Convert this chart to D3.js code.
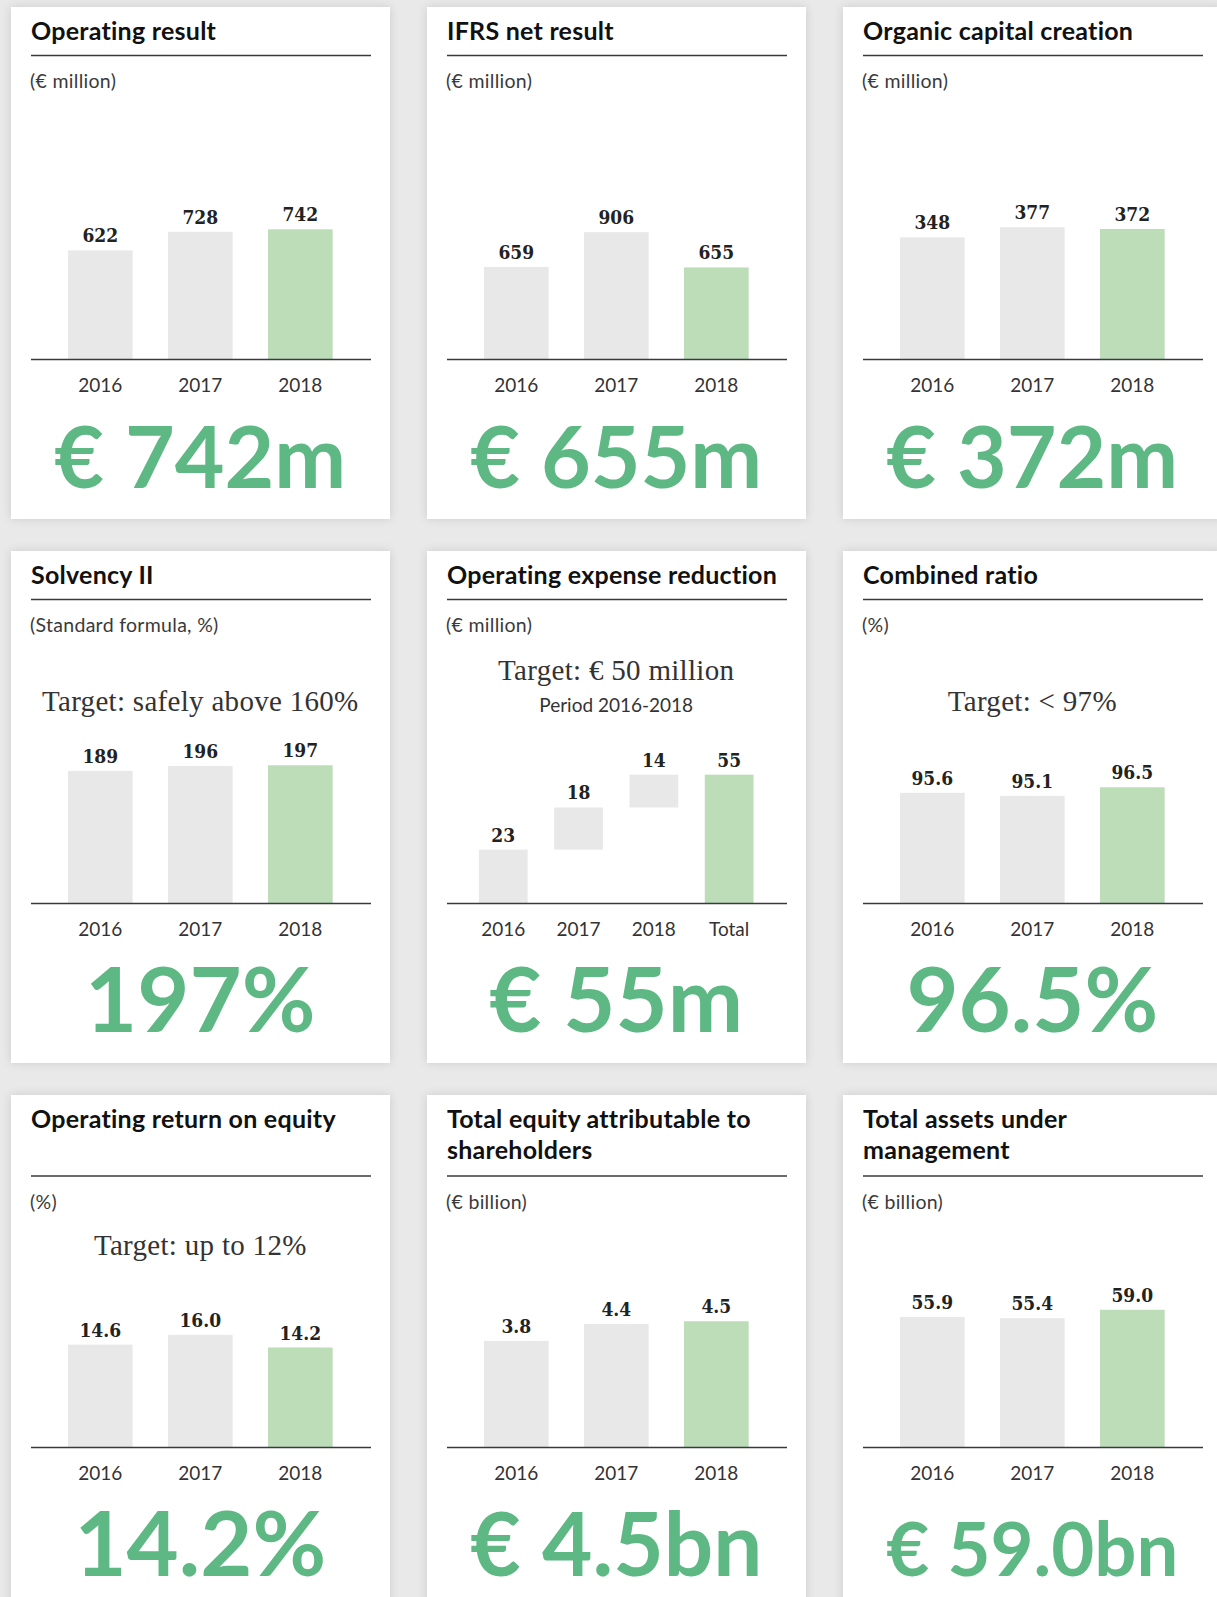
<!DOCTYPE html>
<html>
<head>
<meta charset="utf-8">
<script src="https://cdn.jsdelivr.net/npm/d3@7"></script>
<style>
  html, body { margin: 0; padding: 0; background: #e9e9e9; }
  svg { display: block; }
  .title { font-family: Lato, "Open Sans", sans-serif; font-weight: 700; font-size: 25px; letter-spacing: 0.25px; fill: #111; }
  .unit { font-family: Lato, sans-serif; font-size: 19.5px; letter-spacing: 0.3px; fill: #3a3a3a; }
  .target { font-family: "Liberation Serif", serif; font-size: 29px; letter-spacing: 0.3px; fill: #333; }
  .note { font-family: Lato, sans-serif; font-size: 19px; fill: #333; }
  .value { font-family: "DejaVu Serif Condensed", "DejaVu Serif", serif; font-stretch: condensed; font-weight: 700; font-size: 19px; fill: #222; }
  .year text { font-family: Lato, sans-serif; font-size: 19px; fill: #333; }
  .headline { font-family: Lato, sans-serif; font-weight: 700; font-size: 90px; fill: #5db883; }
</style>
</head>
<body>
<svg id="kpis" width="1217" height="1597"></svg>
<script>
// ---- data ----
const years = ["2016", "2017", "2018"]
const expenseCategories = ["2016", "2017", "2018", "Total"]

const operatingResult = [622, 728, 742]
const ifrsNetResult = [659, 906, 655]
const organicCapital = [348, 377, 372]
const solvencyRatio = [189, 196, 197]
const expenseReduction = [23, 18, 14]
const expenseTotal = 55
const combinedRatio = [95.6, 95.1, 96.5]
const operatingROE = [14.6, 16.0, 14.2]
const totalEquity = [3.8, 4.4, 4.5]
const assetsUnderMgmt = [55.9, 55.4, 59.0]

const panelTitles = [
  ["Operating result"], ["IFRS net result"], ["Organic capital creation"],
  ["Solvency II"], ["Operating expense reduction"], ["Combined ratio"],
  ["Operating return on equity"], ["Total equity attributable to", "shareholders"], ["Total assets under", "management"]
]
const panelUnits = ["(€ million)", "(€ million)", "(€ million)", "(Standard formula, %)", "(€ million)", "(%)", "(%)", "(€ billion)", "(€ billion)"]
const panelTargets = [null, null, null, "Target: safely above 160%", "Target: € 50 million", "Target: < 97%", "Target: up to 12%", null, null]
const targetNotes = [null, null, null, null, "Period 2016-2018", null, null, null, null]
const headlines = ["€ 742m", "€ 655m", "€ 372m", "197%", "€ 55m", "96.5%", "14.2%", "€ 4.5bn", "€ 59.0bn"]
const labelFormats = ["d", "d", "d", "d", "d", ".1f", ".1f", ".1f", ".1f"]
// value axis extent of each small chart (combined ratio axis does not start at zero)
const yDomains = [[0, 1140], [0, 1423], [0, 570], [0, 285], [0, 85.4], [77.5, 110.2], [0, 28.4], [0, 7.13], [0, 85.7]]

const panelSeries = [operatingResult, ifrsNetResult, organicCapital, solvencyRatio, expenseReduction,
  combinedRatio, operatingROE, totalEquity, assetsUnderMgmt]

// ---- layout ----
const panelW = 379, panelH = 512
const colStep = 416, rowStep = 544
const axisY = 352.5, plotTop = 152.5
const ruleX0 = 20, ruleX1 = 360
const headlineMaxW = 292
const grey = "#e8e8e8", green = "#bddcb8"

const svg = d3.select("#kpis")

const defs = svg.append("defs")
defs.append("filter").attr("id", "shadow")
    .attr("x", "-10%").attr("y", "-10%").attr("width", "120%").attr("height", "120%")
  .append("feDropShadow")
    .attr("dx", 0).attr("dy", 0).attr("stdDeviation", 5)
    .attr("flood-color", "#000").attr("flood-opacity", 0.13)

// build the bars for every panel: [{cat, v, y0, y1, highlight}]
function barsFor(i){
  if(i === 4){
    // waterfall: each year stacks on the previous, then the total from zero
    let run = 0
    const steps = expenseReduction.map((v, k) => {
      const d = {cat: expenseCategories[k], v: v, y0: run, y1: run + v, highlight: false}
      run += v
      return d
    })
    steps.push({cat: "Total", v: expenseTotal, y0: 0, y1: expenseTotal, highlight: true})
    return steps
  }
  const base = yDomains[i][0]
  return panelSeries[i].map((v, k) => ({cat: years[k], v: v, y0: base, y1: v, highlight: k === years.length - 1}))
}

panelTitles.forEach((title, i) => {
  const col = i % 3, row = Math.floor(i / 3)
  const g = svg.append("g")
      .attr("transform", `translate(${11 + col * colStep},${7 + row * rowStep})`)

  g.append("rect")
      .attr("width", panelW).attr("height", panelH)
      .attr("fill", "#fff")
      .attr("filter", "url(#shadow)")

  g.selectAll("text.title")
    .data(title)
    .join("text")
      .attr("class", "title")
      .attr("x", ruleX0)
      .attr("y", (d, k) => 32.5 + k * 31)
      .text(d => d)

  const ruleY = row === 2 ? 81 : 48.5
  g.append("line")
      .attr("x1", ruleX0).attr("x2", ruleX1)
      .attr("y1", ruleY).attr("y2", ruleY)
      .attr("stroke", "#3a3a3a").attr("stroke-width", 1.5)

  g.append("text")
      .attr("class", "unit")
      .attr("x", ruleX0 - 1)
      .attr("y", ruleY + 32.5)
      .text(panelUnits[i])

  const bars = barsFor(i)
  const cats = bars.map(d => d.cat)
  const x = cats.length === 4
    ? d3.scaleBand().domain(cats).range([38.6, 339.8]).paddingInner(0.353).paddingOuter(0.1765)
    : d3.scaleBand().domain(cats).range([39.3, 339.3]).paddingInner(0.353).paddingOuter(0.1765)
  const y = d3.scaleLinear().domain(yDomains[i]).range([axisY, plotTop])
  const centerX = cats.length === 4 ? 189.2 : x(cats[1]) + x.bandwidth() / 2

  if(panelTargets[i]){
    const hasNote = targetNotes[i] !== null
    g.append("text")
        .attr("class", "target")
        .attr("text-anchor", "middle")
        .attr("x", centerX)
        .attr("y", hasNote ? 128.5 : 160)
        .text(panelTargets[i])
    if(hasNote){
      g.append("text")
          .attr("class", "note")
          .attr("text-anchor", "middle")
          .attr("x", centerX)
          .attr("y", 161)
          .text(targetNotes[i])
    }
  }

  g.selectAll("rect.bar")
    .data(bars)
    .join("rect")
      .attr("class", "bar")
      .attr("x", d => x(d.cat))
      .attr("width", x.bandwidth())
      .attr("y", d => y(d.y1))
      .attr("height", d => y(d.y0) - y(d.y1))
      .attr("fill", d => d.highlight ? green : grey)

  const fmt = d3.format(labelFormats[i])
  g.selectAll("text.value")
    .data(bars)
    .join("text")
      .attr("class", "value")
      .attr("text-anchor", "middle")
      .attr("x", d => x(d.cat) + x.bandwidth() / 2)
      .attr("y", d => y(d.y1) - 8)
      .text(d => fmt(d.v))

  g.append("line")
      .attr("x1", ruleX0).attr("x2", ruleX1)
      .attr("y1", axisY).attr("y2", axisY)
      .attr("stroke", "#3a3a3a").attr("stroke-width", 1.5)

  g.append("g")
      .attr("class", "year")
      .attr("transform", `translate(0,${axisY})`)
      .call(d3.axisBottom(x).tickSize(0).tickPadding(19))
      .call(a => a.select(".domain").remove())
      .selectAll("text").attr("font-family", null).attr("font-size", null).attr("fill", null)

  const head = g.append("text")
      .attr("class", "headline")
      .attr("text-anchor", "middle")
      .attr("x", centerX)
      .attr("y", 481)
      .text(headlines[i])
  // shrink the long ones so they stay inside the card
  const w = head.node().getComputedTextLength()
  if(w > headlineMaxW) head.style("font-size", (90 * headlineMaxW / w) + "px")
})
</script>
</body>
</html>
